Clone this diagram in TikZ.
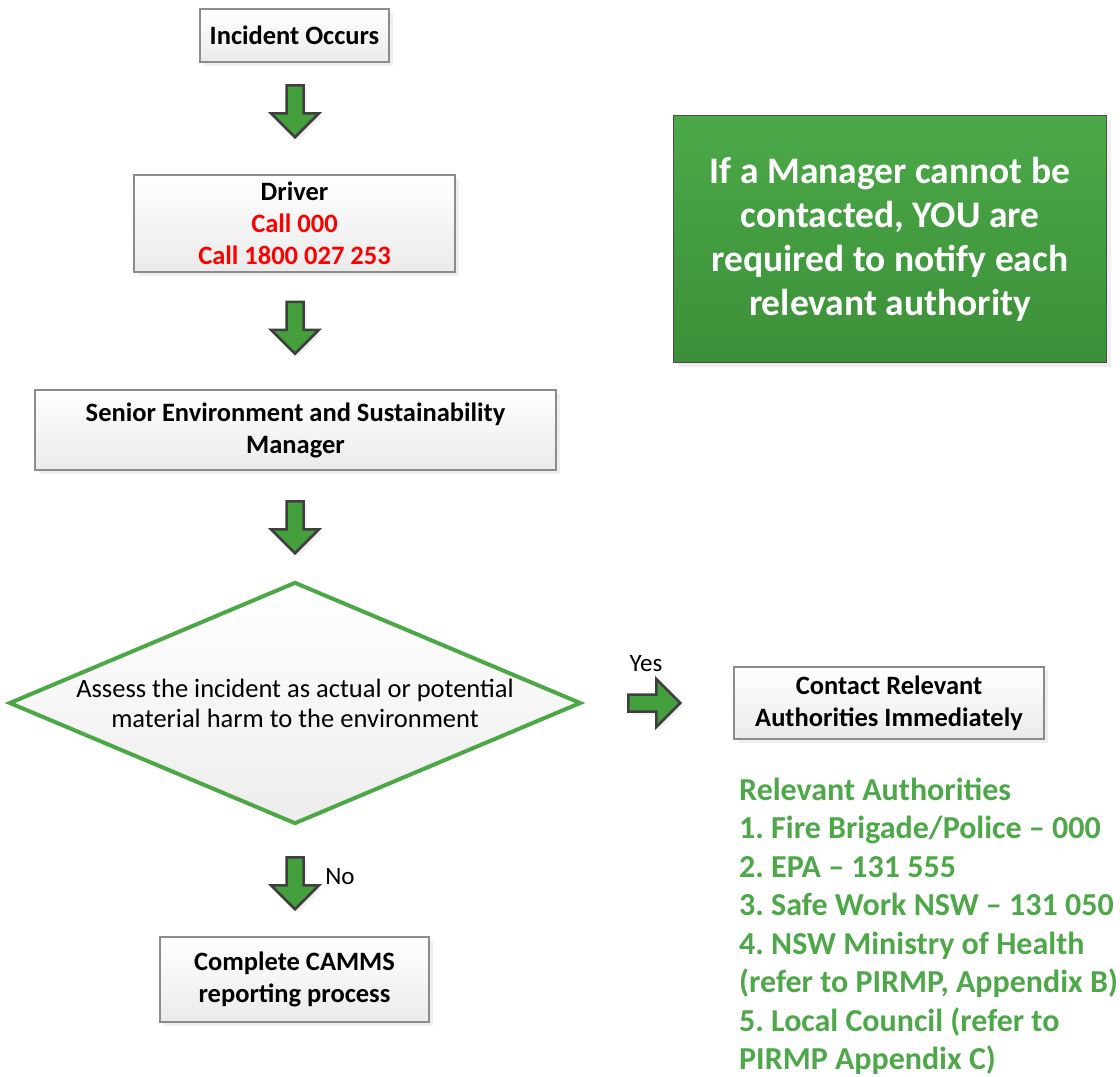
\documentclass[tikz,border=0pt]{standalone}
\usepackage{fontspec}
\setmainfont{Carlito}
\frenchspacing
\usetikzlibrary{shapes,shapes.arrows,shadows,positioning,calc}
\definecolor{boxline}{HTML}{8C8C8C}
\definecolor{arrfill}{HTML}{43A03D}
\definecolor{arrline}{HTML}{3F3F3F}
\definecolor{decline}{HTML}{4CA847}
\definecolor{gtop}{HTML}{4BA948}
\definecolor{gbot}{HTML}{3C8F39}
\definecolor{gtext}{HTML}{4EA84A}
\tikzstyle{proc}=[rectangle, draw=boxline, line width=2.5pt, top color=white, bottom color=black!8, drop shadow={shadow xshift=4pt, shadow yshift=-4pt, fill=black!12}, align=center, inner sep=0pt, font=\fontsize{26.5}{32}\selectfont\bfseries]
\tikzstyle{garrow}=[single arrow, draw=arrline, fill=arrfill, line width=2.5pt, minimum height=52pt, minimum width=0pt, inner xsep=0pt, inner ysep=7.25pt, single arrow head extend=15.5pt, drop shadow={shadow xshift=3pt, shadow yshift=-3pt, fill=black!12}]
\tikzstyle{decision}=[diamond, draw=decline, line width=4pt, top color=white, bottom color=black!7, minimum width=572pt, minimum height=242pt, inner sep=0pt]
\tikzstyle{note}=[rectangle, draw=black!70, line width=1pt, top color=gtop, bottom color=gbot, text=white, align=center, inner sep=0pt, drop shadow={shadow xshift=4pt, shadow yshift=-4pt, fill=black!12}, font=\fontsize{37.5}{44}\selectfont\bfseries]
\tikzstyle{lab}=[font=\fontsize{25}{28}\selectfont]
\tikzstyle{auth}=[text=gtext, align=left, inner sep=0pt, font=\fontsize{32}{38.5}\selectfont\bfseries]

\begin{document}
\begin{tikzpicture}[x=1pt, y=-1pt]
      \useasboundingbox (0,0) rectangle (1120,1077);
      % main flow
      \node at (294.5,35.5) [proc, minimum width=189pt, minimum height=53pt] (incident) {Incident Occurs};
      \node at (294.5,223.5) [proc, minimum width=321pt, minimum height=97pt] (driver) {Driver\\\textcolor{red}{Call 000}\\\textcolor{red}{Call 1800 027 253}};
      \node at (295.5,430) [proc, minimum width=521pt, minimum height=80pt] (senior) {Senior Environment and Sustainability\\Manager};
      \node at (295,703) [decision, label={[font=\fontsize{26.5}{30}\selectfont, align=center]center:Assess the incident as actual or potential\\material harm to the environment}] (assess) {};
      \node at (294.5,979.5) [proc, minimum width=269pt, minimum height=85pt] (camms) {Complete CAMMS\\reporting process};
      \node at (889,703) [proc, minimum width=310pt, minimum height=72pt] (contact) {Contact Relevant\\Authorities Immediately};
      %
      \node at (295,107) [garrow, rotate=-90] (a1) {};
      \node at (295,323.5) [garrow, rotate=-90] (a2) {};
      \node at (295,523) [garrow, rotate=-90] (a3) {};
      \node at (295,879) [garrow, rotate=-90] (a4) {};
      \node at (650,703) [garrow] (a5) {};
      \node at (646,664) [lab] (yes) {Yes};
      \node at (340,877) [lab] (no) {No};
      % side notes
      \node at (890,239) [note, minimum width=433pt, minimum height=247pt] (manager) {If a Manager cannot be\\contacted, YOU are\\required to notify each\\relevant authority};
      \node at (739,777.5) [auth, anchor=north west] (authorities) {Relevant Authorities\\1. Fire Brigade/Police – 000\\2. EPA – 131 555\\3. Safe Work NSW – 131 050\\4. NSW Ministry of Health\\(refer to PIRMP, Appendix B)\\5. Local Council (refer to\\PIRMP Appendix C)};
\end{tikzpicture}
\end{document}
